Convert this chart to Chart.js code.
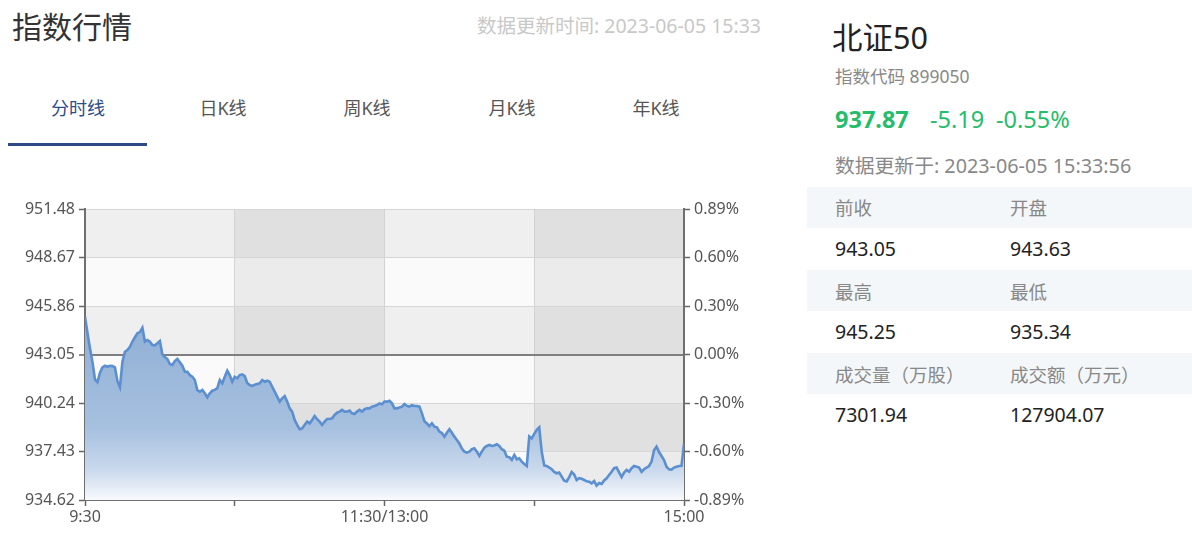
<!DOCTYPE html>
<html>
<head>
<meta charset="utf-8">
<script src="https://cdn.jsdelivr.net/npm/chart.js@4.4.0/dist/chart.umd.min.js"></script>
<style>
  body { margin: 0; width: 1192px; height: 533px; background: #fff; overflow: hidden; position: relative;
         font-family: 'Noto Sans', 'Noto Sans CJK SC', sans-serif; }
  .t { position: absolute; white-space: nowrap; line-height: 1; }
  .tab { position: absolute; width: 100px; text-align: center; top: 99px; font-size: 18px; line-height: 1; color: #555; }
  .row { position: absolute; left: 807px; width: 385px; height: 41px; background: #f4f7fa; }
  .lbl { color: #888; font-size: 18.5px; }
  .val { color: #222; font-size: 19.5px; }
  #c { position: absolute; left: 0; top: 190px; }
</style>
</head>
<body>
<div class="t" style="left:12px;top:12px;font-size:30px;color:#333;">指数行情</div>
<div class="t" style="left:477px;top:16px;font-size:19.5px;color:#c8c8c8;">数据更新时间: 2023-06-05 15:33</div>

<div class="tab" style="left:28px;color:#2b4c8c;">分时线</div>
<div class="tab" style="left:173px;">日K线</div>
<div class="tab" style="left:317px;">周K线</div>
<div class="tab" style="left:462px;">月K线</div>
<div class="tab" style="left:606px;">年K线</div>
<div style="position:absolute;left:8px;top:143px;width:139px;height:3px;background:#2d4a87;"></div>

<div class="t" style="left:832px;top:22px;font-size:30.5px;color:#222;">北证50</div>
<div class="t" style="left:835px;top:68px;font-size:17.5px;color:#888;">指数代码 899050</div>
<div class="t" style="left:835px;top:108px;font-size:23.5px;font-weight:bold;color:#25bd6c;">937.87</div>
<div class="t" style="left:930px;top:108px;font-size:23.5px;color:#25bd6c;">-5.19</div>
<div class="t" style="left:996px;top:108px;font-size:23.5px;color:#25bd6c;">-0.55%</div>
<div class="t" style="left:835px;top:156px;font-size:19.8px;color:#888;">数据更新于: 2023-06-05 15:33:56</div>

<div class="row" style="top:187px;"></div>
<div class="row" style="top:270px;"></div>
<div class="row" style="top:353px;"></div>
<div class="t lbl" style="left:835px;top:199px;">前收</div>
<div class="t lbl" style="left:1010px;top:199px;">开盘</div>
<div class="t val" style="left:835px;top:239px;">943.05</div>
<div class="t val" style="left:1010px;top:239px;">943.63</div>
<div class="t lbl" style="left:835px;top:283px;">最高</div>
<div class="t lbl" style="left:1010px;top:283px;">最低</div>
<div class="t val" style="left:835px;top:322px;">945.25</div>
<div class="t val" style="left:1010px;top:322px;">935.34</div>
<div class="t lbl" style="left:835px;top:366px;">成交量（万股）</div>
<div class="t lbl" style="left:1010px;top:366px;">成交额（万元）</div>
<div class="t val" style="left:835px;top:405px;">7301.94</div>
<div class="t val" style="left:1010px;top:405px;">127904.07</div>

<canvas id="c" width="770" height="343"></canvas>

<script>
// 数据：北证50 分时 (每分钟一个点, 9:30 - 15:00)
const prevClose = 943.05;
const yTicks = [934.62, 937.43, 940.24, 943.05, 945.86, 948.67, 951.48];
const pctLabels = ['-0.89%', '-0.60%', '-0.30%', '0.00%', '0.30%', '0.60%', '0.89%'];
const timeTicks = [0, 60, 120, 180, 240];
const timeLabels = ['9:30', '', '11:30/13:00', '', '15:00'];
const prices = [
  945.24, 944.30, 943.40, 942.60, 941.60, 941.45, 942.00, 942.30, 942.40, 942.34,
  942.40, 942.38, 942.30, 941.50, 941.15, 942.63, 943.21, 943.31, 943.50, 943.80,
  944.05, 944.28, 944.35, 944.60, 943.80, 943.89, 943.79, 943.60, 943.58, 943.70,
  943.83, 943.05, 942.90, 942.79, 942.50, 942.45, 942.67, 942.80, 942.60, 942.40,
  942.05, 942.05, 941.86, 941.76, 941.57, 940.99, 940.90, 940.99, 940.80, 940.57,
  940.80, 940.95, 941.00, 941.10, 941.57, 941.38, 941.76, 942.11, 941.86, 941.47,
  941.76, 941.67, 941.86, 941.90, 941.80, 941.40, 941.28, 941.23, 941.30, 941.34,
  941.38, 941.57, 941.47, 941.53, 941.47, 941.18, 940.90, 940.61, 940.32, 940.51,
  940.64, 940.32, 939.93, 939.74, 939.26, 938.97, 938.72, 938.77, 938.97, 939.16,
  939.06, 939.26, 939.49, 939.30, 939.16, 938.97, 939.16, 939.31, 939.31, 939.35,
  939.55, 939.68, 939.74, 939.84, 939.74, 939.74, 939.80, 939.64, 939.60, 939.74,
  939.84, 939.74, 939.88, 939.93, 939.93, 940.03, 940.07, 940.12, 940.22, 940.17,
  940.32, 940.32, 940.37, 940.22, 939.93, 939.93, 939.98, 940.03, 940.18, 940.07,
  940.03, 940.12, 940.07, 940.07, 940.03, 939.64, 939.18, 939.05, 938.90, 939.06,
  938.87, 938.83, 938.58, 938.50, 938.29, 938.52, 938.72, 938.52, 938.29, 938.10,
  937.90, 937.60, 937.42, 937.36, 937.42, 937.56, 937.61, 937.42, 937.17, 937.42,
  937.65, 937.75, 937.81, 937.75, 937.78, 937.85, 937.75, 937.56, 937.48, 937.13,
  937.10, 936.94, 937.23, 936.98, 937.04, 936.84, 936.71, 936.59, 938.30, 938.19,
  938.45, 938.68, 938.83, 937.40, 936.62, 936.59, 936.50, 936.40, 936.25, 936.17,
  936.21, 935.97, 935.74, 935.70, 935.95, 936.24, 936.10, 935.78, 935.88, 935.85,
  935.78, 935.70, 935.68, 935.59, 935.72, 935.45, 935.60, 935.55, 935.75, 935.88,
  936.07, 936.26, 936.46, 936.50, 936.22, 935.95, 936.21, 936.36, 936.26, 936.46,
  936.59, 936.55, 936.50, 936.25, 936.40, 936.50, 936.59, 936.85, 937.50, 937.71,
  937.40, 937.17, 936.94, 936.55, 936.40, 936.38, 936.50, 936.55, 936.59, 936.60,
  937.87
];

const axisFont = { family: "'Noto Sans', 'Noto Sans CJK SC', sans-serif", size: 16 };

// 背景的明暗格子
const bands = {
  id: 'bands',
  beforeDraw(chart) {
    const { ctx, chartArea: a, scales: { x, y } } = chart;
    ctx.save();
    for (let i = 0; i < timeTicks.length - 1; i++) {
      const x0 = x.getPixelForValue(timeTicks[i]);
      const x1 = x.getPixelForValue(timeTicks[i + 1]);
      ctx.fillStyle = i % 2 ? '#ebebeb' : '#fafafa';
      ctx.fillRect(x0, a.top, x1 - x0, a.bottom - a.top);
    }
    ctx.fillStyle = 'rgba(0,0,0,0.045)';
    for (let j = 1; j < yTicks.length - 1; j += 2) {
      const y0 = y.getPixelForValue(yTicks[j + 1]);
      const y1 = y.getPixelForValue(yTicks[j]);
      ctx.fillRect(a.left, y0, a.right - a.left, y1 - y0);
    }
    ctx.restore();
  }
};

const ctx = document.getElementById('c').getContext('2d');
const chart = new Chart(ctx, {
  type: 'line',
  data: {
    datasets: [{
      data: prices.map((p, i) => ({ x: i, y: p })),
      borderColor: '#5b8fd0',
      borderWidth: 2.6,
      pointRadius: 0,
      tension: 0,
      fill: 'start',
      backgroundColor: (c) => {
        const a = c.chart.chartArea;
        if (!a) return 'rgba(140,172,212,0.8)';
        const g = c.chart.ctx.createLinearGradient(0, a.top, 0, a.bottom);
        g.addColorStop(0, 'rgb(135,168,210)');
        g.addColorStop(0.4, 'rgb(145,176,214)');
        g.addColorStop(0.75, 'rgb(166,192,223)');
        g.addColorStop(0.9, 'rgb(203,218,237)');
        g.addColorStop(1, 'rgb(248,250,253)');
        return g;
      }
    }]
  },
  options: {
    responsive: false,
    animation: false,
    layout: { padding: { top: 19, left: 0, right: 0, bottom: 0 } },
    plugins: { legend: { display: false }, tooltip: { enabled: false } },
    scales: {
      x: {
        type: 'linear',
        min: 0,
        max: 240,
        afterBuildTicks: (s) => { s.ticks = timeTicks.map(v => ({ value: v })); },
        afterFit: (s) => { s.height = 33; },
        ticks: { callback: (v, i) => timeLabels[i], color: '#555', font: axisFont, maxRotation: 0, autoSkip: false, padding: 2 },
        grid: { color: '#d3d3d3', lineWidth: 1, tickLength: 6, tickColor: '#666', tickWidth: 1.5 },
        border: { color: '#6f6f6f', width: 2 }
      },
      y: {
        min: yTicks[0],
        max: yTicks[yTicks.length - 1],
        afterBuildTicks: (s) => { s.ticks = yTicks.map(v => ({ value: v })); },
        afterFit: (s) => { s.width = 85; },
        ticks: { callback: (v) => v.toFixed(2), color: '#555', font: axisFont, padding: 4 },
        grid: {
          color: (c) => (c.tick && c.tick.value === prevClose) ? '#7f7f7f' : '#d6d6d6',
          lineWidth: (c) => (c.tick && c.tick.value === prevClose) ? 2 : 1,
          tickLength: 6, tickColor: '#666', tickWidth: 1.5
        },
        border: { color: '#6f6f6f', width: 2 }
      },
      y2: {
        position: 'right',
        min: yTicks[0],
        max: yTicks[yTicks.length - 1],
        afterBuildTicks: (s) => { s.ticks = yTicks.map(v => ({ value: v })); },
        afterFit: (s) => { s.width = 86; },
        ticks: { callback: (v, i) => pctLabels[i], color: '#555', font: axisFont, padding: 4 },
        grid: { drawOnChartArea: false, tickLength: 6, tickColor: '#666', tickWidth: 1.5 },
        border: { color: '#6f6f6f', width: 2 }
      }
    }
  },
  plugins: [bands]
});
</script>
</body>
</html>
